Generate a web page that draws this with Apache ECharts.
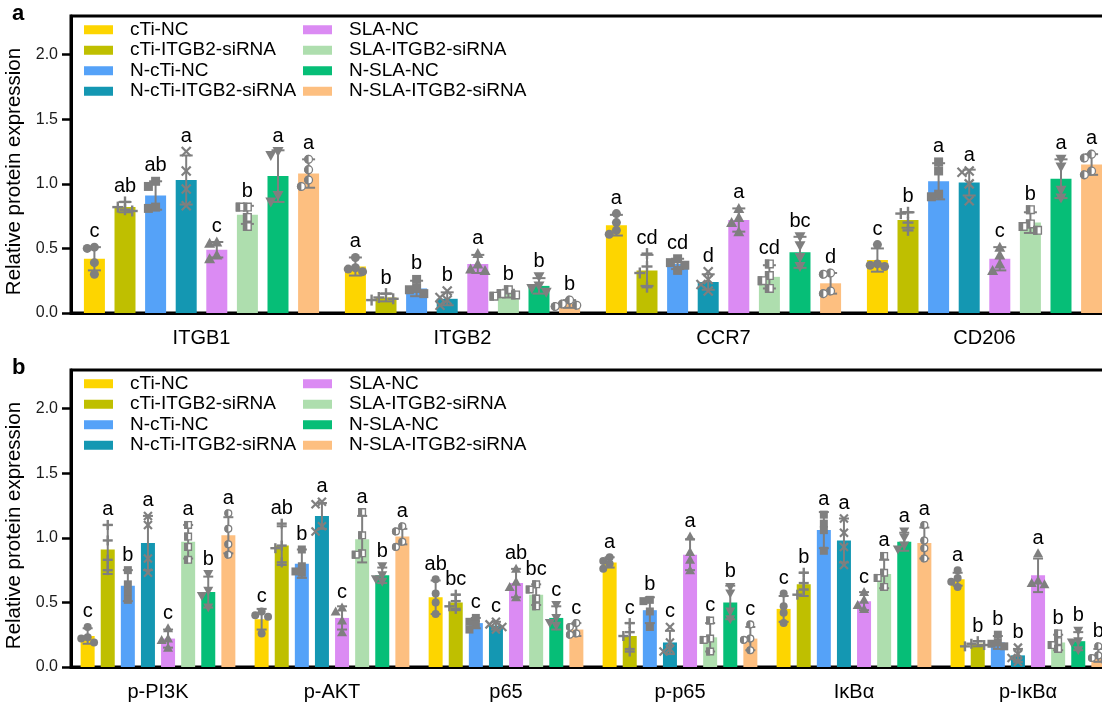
<!DOCTYPE html>
<html>
<head>
<meta charset="utf-8">
<script src="https://cdn.jsdelivr.net/npm/echarts@6/dist/echarts.min.js"></script>
<style>
  html, body { margin: 0; padding: 0; background: #fff; }
  #chart { width: 1102px; height: 708px; }
</style>
</head>
<body>
<div id="chart"></div>
<script>
// ---- data -------------------------------------------------------------
const groupNames = ['cTi-NC', 'cTi-ITGB2-siRNA', 'N-cTi-NC', 'N-cTi-ITGB2-siRNA',
                    'SLA-NC', 'SLA-ITGB2-siRNA', 'N-SLA-NC', 'N-SLA-ITGB2-siRNA'];
const catsA = ['ITGB1', 'ITGB2', 'CCR7', 'CD206'];
const catsB = ['p-PI3K', 'p-AKT', 'p65', 'p-p65', 'IκBα', 'p-IκBα'];
const yTicks = [0, 0.5, 1.0, 1.5, 2.0];

// panel a: group means (rows = groups, columns = proteins)
const meansA = [
  [0.42, 0.36, 0.68, 0.41],
  [0.82, 0.12, 0.33, 0.72],
  [0.91, 0.19, 0.38, 1.02],
  [1.03, 0.11, 0.24, 1.01],
  [0.49, 0.38, 0.72, 0.42],
  [0.76, 0.15, 0.28, 0.70],
  [1.06, 0.21, 0.47, 1.04],
  [1.08, 0.07, 0.23, 1.15]
];
// panel a: standard deviations
const sdA = [
  [0.09, 0.07, 0.08, 0.09],
  [0.04, 0.03, 0.12, 0.06],
  [0.11, 0.06, 0.04, 0.14],
  [0.19, 0.05, 0.06, 0.10],
  [0.06, 0.07, 0.09, 0.09],
  [0.07, 0.03, 0.09, 0.08],
  [0.20, 0.06, 0.12, 0.15],
  [0.11, 0.03, 0.08, 0.08]
];
// panel a: individual replicates
const ptsA = [
  [[0.51, 0.50, 0.39, 0.30], [0.43, 0.35, 0.34, 0.32], [0.77, 0.70, 0.64, 0.61], [0.53, 0.38, 0.37, 0.36]],
  [[0.86, 0.82, 0.80, 0.79], [0.15, 0.12, 0.11, 0.10], [0.46, 0.36, 0.31, 0.20], [0.78, 0.77, 0.70, 0.64]],
  [[1.02, 0.98, 0.82, 0.81], [0.26, 0.19, 0.18, 0.15], [0.42, 0.39, 0.37, 0.33], [1.17, 1.10, 0.92, 0.90]],
  [[1.25, 1.10, 0.96, 0.83], [0.17, 0.12, 0.10, 0.06], [0.32, 0.26, 0.22, 0.17], [1.10, 1.09, 1.00, 0.87]],
  [[0.55, 0.54, 0.45, 0.42], [0.46, 0.38, 0.34, 0.33], [0.81, 0.74, 0.70, 0.63], [0.51, 0.45, 0.38, 0.33]],
  [[0.82, 0.82, 0.74, 0.67], [0.18, 0.15, 0.14, 0.13], [0.38, 0.29, 0.25, 0.19], [0.80, 0.69, 0.67, 0.64]],
  [[1.25, 1.22, 0.91, 0.86], [0.28, 0.21, 0.19, 0.16], [0.59, 0.52, 0.43, 0.36], [1.19, 1.13, 0.95, 0.89]],
  [[1.19, 1.11, 1.03, 0.98], [0.10, 0.07, 0.06, 0.05], [0.31, 0.30, 0.17, 0.15], [1.23, 1.20, 1.10, 1.07]]
];
// panel a: significance letters
const lettersA = [
  ['c', 'a', 'a', 'c'],
  ['ab', 'b', 'cd', 'b'],
  ['ab', 'b', 'cd', 'a'],
  ['a', 'b', 'd', 'a'],
  ['c', 'a', 'a', 'c'],
  ['b', 'b', 'cd', 'b'],
  ['a', 'b', 'bc', 'a'],
  ['a', 'b', 'd', 'a']
];

// panel b: group means
const meansB = [
  [0.24, 0.37, 0.54, 0.81, 0.45, 0.68],
  [0.91, 0.94, 0.50, 0.24, 0.64, 0.18],
  [0.63, 0.80, 0.34, 0.44, 1.06, 0.19],
  [0.96, 1.17, 0.32, 0.19, 0.98, 0.09],
  [0.22, 0.38, 0.65, 0.87, 0.51, 0.71],
  [0.97, 0.99, 0.56, 0.23, 0.72, 0.19],
  [0.58, 0.71, 0.38, 0.50, 0.97, 0.20],
  [1.02, 1.01, 0.29, 0.22, 0.96, 0.09]
];
// panel b: standard deviations
const sdB = [
  [0.06, 0.08, 0.13, 0.04, 0.10, 0.05],
  [0.19, 0.15, 0.06, 0.10, 0.09, 0.02],
  [0.12, 0.11, 0.04, 0.10, 0.14, 0.05],
  [0.21, 0.10, 0.03, 0.09, 0.17, 0.05],
  [0.07, 0.09, 0.11, 0.12, 0.07, 0.13],
  [0.13, 0.18, 0.08, 0.11, 0.11, 0.06],
  [0.12, 0.06, 0.09, 0.13, 0.07, 0.07],
  [0.14, 0.06, 0.05, 0.09, 0.12, 0.05]
];
// panel b: individual replicates
const ptsB = [
  [[0.31, 0.23, 0.22, 0.19], [0.43, 0.40, 0.39, 0.26], [0.68, 0.57, 0.50, 0.41], [0.85, 0.82, 0.80, 0.76], [0.57, 0.47, 0.42, 0.34], [0.75, 0.69, 0.66, 0.62]],
  [[1.10, 0.98, 0.83, 0.75], [1.11, 0.94, 0.92, 0.81], [0.56, 0.51, 0.47, 0.45], [0.34, 0.27, 0.24, 0.12], [0.73, 0.65, 0.60, 0.56], [0.20, 0.18, 0.17, 0.16]],
  [[0.75, 0.64, 0.58, 0.52], [0.91, 0.78, 0.74, 0.73], [0.38, 0.35, 0.33, 0.29], [0.52, 0.51, 0.43, 0.31], [1.18, 1.11, 1.06, 0.90], [0.25, 0.19, 0.18, 0.16]],
  [[1.17, 1.10, 0.84, 0.73], [1.28, 1.26, 1.09, 1.05], [0.35, 0.33, 0.31, 0.29], [0.31, 0.19, 0.14, 0.12], [1.15, 1.04, 0.93, 0.79], [0.15, 0.10, 0.07, 0.04]],
  [[0.30, 0.22, 0.21, 0.15], [0.46, 0.43, 0.36, 0.27], [0.76, 0.66, 0.62, 0.54], [1.01, 0.89, 0.83, 0.75], [0.58, 0.52, 0.48, 0.45], [0.88, 0.67, 0.65, 0.64]],
  [[1.10, 1.01, 0.93, 0.83], [1.20, 1.02, 0.88, 0.87], [0.64, 0.60, 0.53, 0.47], [0.36, 0.22, 0.21, 0.12], [0.86, 0.73, 0.69, 0.62], [0.26, 0.20, 0.17, 0.14]],
  [[0.72, 0.59, 0.55, 0.46], [0.78, 0.71, 0.68, 0.66], [0.48, 0.38, 0.34, 0.32], [0.62, 0.57, 0.43, 0.37], [1.05, 1.00, 0.94, 0.91], [0.28, 0.20, 0.19, 0.13]],
  [[1.19, 1.07, 0.95, 0.87], [1.09, 1.05, 0.97, 0.93], [0.34, 0.31, 0.26, 0.25], [0.33, 0.22, 0.21, 0.13], [1.10, 0.98, 0.92, 0.84], [0.16, 0.09, 0.07, 0.05]]
];
// panel b: significance letters
const lettersB = [
  ['c', 'c', 'ab', 'a', 'c', 'a'],
  ['a', 'ab', 'bc', 'c', 'b', 'b'],
  ['b', 'b', 'c', 'b', 'a', 'b'],
  ['a', 'a', 'c', 'c', 'a', 'b'],
  ['c', 'c', 'ab', 'a', 'c', 'a'],
  ['a', 'a', 'bc', 'c', 'a', 'b'],
  ['b', 'b', 'c', 'b', 'a', 'b'],
  ['a', 'a', 'c', 'c', 'a', 'b']
];

// ---- styling ------------------------------------------------------------
const FONT = '"Liberation Sans", Arial, Helvetica, sans-serif';
const colors = ['#FDD500', '#BFBF00', '#55A2F8', '#1497B2', '#DB8BF3', '#AEDEAE', '#06BE77', '#FDBF80'];
const GREY = '#7f7f7f';

const panels = [
  { cats: catsA, means: meansA, sds: sdA, pts: ptsA, letters: lettersA,
    top: 16, barW: 21, step: 30.6, mark: 9, cap: 13 },
  { cats: catsB, means: meansB, sds: sdB, pts: ptsB, letters: lettersB,
    top: 370, barW: 14, step: 20.1, mark: 8, cap: 10 }
];
const GRID_LEFT = 71, GRID_W = 1044, GRID_H = 297, Y_MAX = 2.3;

// one marker shape per group: circle, plus, square, cross, triangle,
// half-filled square, inverted triangle, half-filled circle
function marker(kind, x, y, s) {
  const h = s / 2;
  const fill = { fill: GREY };
  switch (kind) {
    case 0: return [{ type: 'circle', shape: { cx: x, cy: y, r: h }, style: fill }];
    case 1: return [
      { type: 'rect', shape: { x: x - h - 1, y: y - 1.2, width: s + 2, height: 2.4 }, style: fill },
      { type: 'rect', shape: { x: x - 1.2, y: y - h - 1, width: 2.4, height: s + 2 }, style: fill }];
    case 2: return [{ type: 'rect', shape: { x: x - h, y: y - h, width: s, height: s }, style: fill }];
    case 3: return [
      { type: 'line', shape: { x1: x - h, y1: y - h, x2: x + h, y2: y + h }, style: { stroke: GREY, lineWidth: 2.2 } },
      { type: 'line', shape: { x1: x - h, y1: y + h, x2: x + h, y2: y - h }, style: { stroke: GREY, lineWidth: 2.2 } }];
    case 4: return [{ type: 'polygon', shape: { points: [[x, y - h - 1], [x - h - 1, y + h], [x + h + 1, y + h]] }, style: fill }];
    case 5: return [
      { type: 'rect', shape: { x: x - h + 0.7, y: y - h + 0.7, width: s - 1.4, height: s - 1.4 }, style: { fill: '#fff', stroke: GREY, lineWidth: 1.4 } },
      { type: 'rect', shape: { x: x - h, y: y - h, width: h, height: s }, style: fill }];
    case 6: return [{ type: 'polygon', shape: { points: [[x, y + h + 1], [x - h - 1, y - h], [x + h + 1, y - h]] }, style: fill }];
    default: return [
      { type: 'circle', shape: { cx: x, cy: y, r: h - 0.6 }, style: { fill: '#fff', stroke: GREY, lineWidth: 1.3 } },
      { type: 'sector', shape: { cx: x, cy: y, r0: 0, r: h, startAngle: Math.PI / 2, endAngle: Math.PI * 1.5 }, style: fill }];
  }
}

// spread replicates sideways when they would overlap
function swarm(ys, s) {
  const order = ys.map((y, i) => i).sort((a, b) => ys[a] - ys[b]);
  const dx = new Array(ys.length).fill(0);
  const placed = [];
  const tries = [0, -1, 1, -2, 2];
  order.forEach(i => {
    for (const t of tries) {
      const x = t * s * 0.8;
      const hit = placed.some(p => Math.hypot(p[0] - x, p[1] - ys[i]) < s * 0.8);
      if (!hit) { dx[i] = x; placed.push([x, ys[i]]); return; }
    }
    placed.push([0, ys[i]]);
  });
  return dx;
}

const grids = [], xAxes = [], yAxes = [], series = [], legends = [], graphics = [];

panels.forEach((P, k) => {
  grids.push({ left: GRID_LEFT, top: P.top, width: GRID_W, height: GRID_H,
    show: true, borderColor: '#000', borderWidth: 3, backgroundColor: 'transparent',
    containLabel: false, outerBoundsMode: 'none' });
  xAxes.push({ type: 'category', gridIndex: k, data: P.cats,
    axisLine: { show: true, lineStyle: { color: '#000', width: 3 } },
    axisTick: { show: false },
    axisLabel: { fontSize: 20, fontFamily: FONT, color: '#000', margin: 15 } });
  yAxes.push({ type: 'value', gridIndex: k, min: 0, max: Y_MAX, interval: 0.5,
    name: 'Relative protein expression', nameLocation: 'middle', nameGap: 43,
    nameTextStyle: { fontSize: 20.5, fontFamily: FONT, color: '#000', padding: [0, 14, 0, 0] },
    axisLine: { show: true, lineStyle: { color: '#000', width: 3 } },
    axisTick: { show: true, length: 9, lineStyle: { color: '#000', width: 2.5 }, customValues: yTicks },
    axisLabel: { fontSize: 16, fontFamily: FONT, color: '#1a1a1a', margin: 13,
      customValues: yTicks, formatter: v => v.toFixed(1) },
    splitLine: { show: false } });

  groupNames.forEach((name, g) => {
    series.push({ type: 'bar', name, xAxisIndex: k, yAxisIndex: k,
      data: P.means[g], barWidth: P.barW,
      barGap: ((P.step - P.barW) / P.barW * 100).toFixed(1) + '%',
      itemStyle: { color: colors[g] }, z: 2 });

    series.push({ type: 'custom', name: 'rep-' + k + '-' + g, xAxisIndex: k, yAxisIndex: k,
      data: P.means[g].map((m, i) => [i, m]), z: 5, clip: false, silent: true,
      renderItem: (params, api) => {
        const i = params.dataIndex;
        const m = P.means[g][i], sd = P.sds[g][i];
        const cx = api.coord([i, 0])[0] + (g - 3.5) * P.step;
        const yHi = api.coord([i, m + sd])[1];
        const yLo = api.coord([i, m - sd])[1];
        const ln = { stroke: GREY, lineWidth: 2 };
        const hc = P.cap / 2;
        const kids = [
          { type: 'line', shape: { x1: cx, y1: yLo, x2: cx, y2: yHi }, style: ln },
          { type: 'line', shape: { x1: cx - hc, y1: yHi, x2: cx + hc, y2: yHi }, style: ln },
          { type: 'line', shape: { x1: cx - hc, y1: yLo, x2: cx + hc, y2: yLo }, style: ln }
        ];
        const ys = P.pts[g][i].map(v => api.coord([i, v])[1]);
        const dx = swarm(ys, P.mark);
        ys.forEach((y, j) => { kids.push(...marker(g, cx + dx[j], y, P.mark)); });
        const topY = Math.min(yHi, ...ys.map(y => y - P.mark / 2));
        kids.push({ type: 'text', style: { text: P.letters[g][i], x: cx, y: topY - 1,
          align: 'center', verticalAlign: 'bottom', fill: '#000',
          fontSize: 20, fontFamily: FONT } });
        return { type: 'group', children: kids };
      } });
  });

  const legTop = P.top + 4;
  [[0, 4, 84], [4, 8, 303]].forEach(([a, b, left]) => {
    legends.push({ orient: 'vertical', left, top: legTop, itemWidth: 29, itemHeight: 9,
      itemGap: 1, icon: 'rect', selectedMode: false, padding: 0,
      data: groupNames.slice(a, b),
      textStyle: { fontSize: 19, fontFamily: FONT, color: '#000', lineHeight: 19.5, padding: [0, 0, 0, 12] } });
  });

  graphics.push({ type: 'text', left: 12, top: P.top - 13,
    style: { text: k === 0 ? 'a' : 'b', fontSize: 22, fontWeight: 'bold', fontFamily: FONT, fill: '#000' } });
});

const chart = echarts.init(document.getElementById('chart'), null, { renderer: 'canvas' });
chart.setOption({
  animation: false,
  backgroundColor: '#fff',
  grid: grids, xAxis: xAxes, yAxis: yAxes,
  legend: legends, series, graphic: graphics
});
</script>
</body>
</html>
